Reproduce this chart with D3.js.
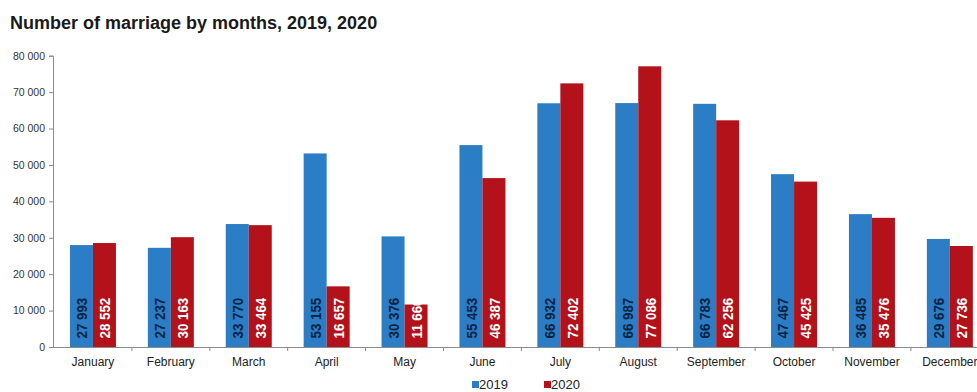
<!DOCTYPE html>
<html>
<head>
<meta charset="utf-8">
<script src="https://cdn.jsdelivr.net/npm/d3@7"></script>
<style>
  html, body { margin: 0; padding: 0; background: #fff; }
  svg { display: block; font-family: "Liberation Sans", Arial, sans-serif; }
</style>
</head>
<body>
<svg id="chart" width="977" height="392"></svg>
<script>
// Monthly marriage counts
const months = ["January", "February", "March", "April", "May", "June",
  "July", "August", "September", "October", "November", "December"];
const seriesNames = ["2019", "2020"];
const values2019 = [27993, 27237, 33770, 53155, 30376, 55453, 66932, 66987, 66783, 47467, 36485, 29676];
const values2020 = [28552, 30163, 33464, 16657, 11666, 46387, 72402, 77086, 62256, 45425, 35476, 27736];
const yTicks = [0, 10000, 20000, 30000, 40000, 50000, 60000, 70000, 80000];
const title = "Number of marriage by months, 2019, 2020";

const colors = { "2019": "#2b7dc5", "2020": "#b3121a" };
const labelColors = { "2019": "#0b2444", "2020": "#ffffff" };

const rows = months.map((m, i) => ({ month: m, "2019": values2019[i], "2020": values2020[i] }));

const svg = d3.select("#chart");
const left = 54, bandW = 77.9;
const plotTop = 55.7, plotBottom = 347;

const x0 = d3.scaleBand().domain(months).range([left, left + bandW * months.length]).padding(0);
const groupW = 46;
const x1 = d3.scaleBand().domain(seriesNames)
  .range([(x0.bandwidth() - groupW) / 2, (x0.bandwidth() + groupW) / 2]).padding(0);
const y = d3.scaleLinear().domain([0, 80000]).range([plotBottom, plotTop]);

const fmt = v => d3.format(",")(v).replace(/,/g, " ");

// Title
svg.append("text")
  .attr("x", 10).attr("y", 29)
  .attr("font-size", 18).attr("font-weight", "bold").attr("fill", "#1a1a1a")
  .text(title);

// Y axis
const yAxis = svg.append("g")
  .attr("transform", `translate(${left - 1},0)`)
  .call(d3.axisLeft(y).tickValues(yTicks).tickSize(4).tickPadding(4).tickFormat(fmt));
yAxis.select(".domain").attr("stroke", "#8c8c8c");
yAxis.selectAll(".tick line").attr("stroke", "#8c8c8c");
yAxis.selectAll(".tick text").attr("font-size", 10.5).attr("fill", "#333")
  .attr("font-family", "'Liberation Sans', Arial, sans-serif");

// Bars
const groups = svg.append("g").selectAll("g")
  .data(rows).join("g")
  .attr("transform", d => `translate(${x0(d.month)},0)`);

groups.selectAll("rect")
  .data(d => seriesNames.map(s => ({ key: s, value: d[s] })))
  .join("rect")
  .attr("x", d => x1(d.key))
  .attr("y", d => y(d.value))
  .attr("width", x1.bandwidth())
  .attr("height", d => y(0) - y(d.value))
  .attr("fill", d => colors[d.key]);

// Rotated value labels inside bars (slightly condensed bold type)
groups.selectAll("text.val")
  .data(d => seriesNames.map(s => ({ key: s, value: d[s] })))
  .join("text")
  .attr("class", "val")
  .attr("transform", d => `translate(${x1(d.key) + x1.bandwidth() / 2 + 5.8},${plotBottom - 8.5}) rotate(-90) scale(0.92,1)`)
  .attr("font-size", 14.5).attr("font-weight", "bold")
  .attr("fill", d => labelColors[d.key])
  .text(d => fmt(d.value));

// X axis
const xAxis = svg.append("g")
  .attr("transform", `translate(0,${plotBottom})`)
  .call(d3.axisBottom(x0).tickSize(0).tickPadding(10));
xAxis.select(".domain").attr("stroke", "#8c8c8c").attr("d", `M${left - 1},0.5H${left + bandW * 12}`);
xAxis.selectAll(".tick text").attr("font-size", 12).attr("fill", "#222")
  .attr("font-family", "'Liberation Sans', Arial, sans-serif");
xAxis.selectAll("line.sep")
  .data(months.slice(1))
  .join("line")
  .attr("class", "sep")
  .attr("x1", d => x0(d)).attr("x2", d => x0(d))
  .attr("y1", 0).attr("y2", 4)
  .attr("stroke", "#8c8c8c");

// Legend
const legend = svg.append("g");
const legendX = [472, 544];
seriesNames.forEach((s, i) => {
  legend.append("rect")
    .attr("x", legendX[i]).attr("y", 381)
    .attr("width", 7).attr("height", 7)
    .attr("fill", colors[s]);
  legend.append("text")
    .attr("x", legendX[i] + 7).attr("y", 389)
    .attr("font-size", 13).attr("fill", "#222")
    .text(s);
});
</script>
</body>
</html>
